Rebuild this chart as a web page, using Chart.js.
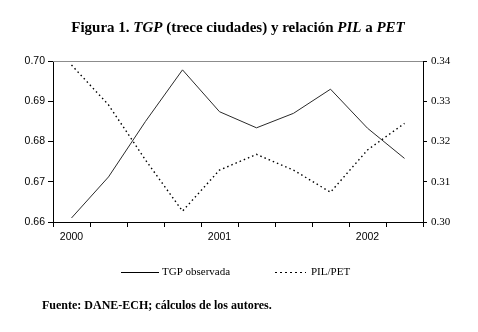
<!DOCTYPE html>
<html>
<head>
<meta charset="utf-8">
<script src="https://cdn.jsdelivr.net/npm/chart.js@4/dist/chart.umd.min.js"></script>
<style>
  html, body { margin: 0; padding: 0; background: #fff; }
  #wrap { width: 478px; height: 332px; }
</style>
</head>
<body>
<div id="wrap"><canvas id="chart" width="478" height="332"></canvas></div>
<script>
// quarterly observations, a year label every fourth one
var periods = ['2000', '', '', '', '2001', '', '', '', '2002', ''];
var tgpObservada = [0.661, 0.6712, 0.6850, 0.6978, 0.6874, 0.6834, 0.6870, 0.6930, 0.6833, 0.6758];
var pilPet = [0.3390, 0.3291, 0.3154, 0.3027, 0.3129, 0.3168, 0.3129, 0.3074, 0.3179, 0.3245];
var leftTicks = [0.66, 0.67, 0.68, 0.69, 0.70];
var rightTicks = [0.30, 0.31, 0.32, 0.33, 0.34];

var SERIF = '"Liberation Serif", "Times New Roman", serif';
var SANS = '"Liberation Sans", Arial, sans-serif';

// title, top frame line, legend and source note
var decor = {
    id: 'decor',
    afterDraw: function(chart) {
        var ctx = chart.ctx;
        var area = chart.chartArea;
        ctx.save();

        // gray line closing the top of the plot
        ctx.strokeStyle = '#8c8c8c';
        ctx.lineWidth = 1;
        ctx.beginPath();
        ctx.moveTo(area.left, area.top + 0.5);
        ctx.lineTo(area.right, area.top + 0.5);
        ctx.stroke();

        // title with italic acronyms
        var parts = [
            ['Figura 1. ', false], ['TGP', true], [' (trece ciudades) y relación ', false],
            ['PIL', true], [' a ', false], ['PET', true]
        ];
        var total = 0;
        for (var i = 0; i < parts.length; i++) {
            ctx.font = (parts[i][1] ? 'italic ' : '') + 'bold 15px ' + SERIF;
            total += ctx.measureText(parts[i][0]).width;
        }
        var x = 238 - total / 2;
        ctx.fillStyle = '#000';
        ctx.textBaseline = 'middle';
        ctx.textAlign = 'left';
        for (var j = 0; j < parts.length; j++) {
            ctx.font = (parts[j][1] ? 'italic ' : '') + 'bold 15px ' + SERIF;
            ctx.fillText(parts[j][0], x, 28);
            x += ctx.measureText(parts[j][0]).width;
        }

        // legend
        var ly = 272;
        ctx.strokeStyle = '#000';
        ctx.lineWidth = 1;
        ctx.beginPath();
        ctx.moveTo(121, ly + 0.5);
        ctx.lineTo(159, ly + 0.5);
        ctx.stroke();
        ctx.setLineDash([2, 3]);
        ctx.lineWidth = 1.2;
        ctx.beginPath();
        ctx.moveTo(275, ly + 0.5);
        ctx.lineTo(306, ly + 0.5);
        ctx.stroke();
        ctx.setLineDash([]);
        ctx.font = '11px ' + SERIF;
        ctx.fillText(chart.data.datasets[0].label, 162, ly);
        ctx.fillText(chart.data.datasets[1].label, 311, ly);

        // source
        ctx.font = 'bold 12px ' + SERIF;
        ctx.fillText('Fuente: DANE-ECH; cálculos de los autores.', 42, 306);
        ctx.restore();
    }
};

function fixed(v) { return Number(v).toFixed(2); }

new Chart(document.getElementById('chart'), {
    type: 'line',
    data: {
        labels: periods,
        datasets: [
            {
                label: 'TGP observada',
                data: tgpObservada,
                yAxisID: 'y',
                borderColor: '#2a2a2a',
                borderWidth: 1,
                pointRadius: 0,
                tension: 0,
                fill: false
            },
            {
                label: 'PIL/PET',
                data: pilPet,
                yAxisID: 'y1',
                borderColor: '#000',
                borderWidth: 1.4,
                borderDash: [1.5, 3],
                pointRadius: 0,
                tension: 0,
                fill: false
            }
        ]
    },
    options: {
        responsive: false,
        animation: false,
        layout: { padding: { top: 61, left: 0, right: 0, bottom: 0 } },
        plugins: {
            legend: { display: false },
            title: { display: false },
            tooltip: { enabled: false }
        },
        scales: {
            x: {
                type: 'category',
                offset: true,
                grid: { offset: true, drawOnChartArea: false, drawTicks: true, tickLength: 5, color: '#000' },
                border: { color: '#000', width: 1 },
                ticks: { autoSkip: false, maxRotation: 0, padding: 4, color: '#000', font: { family: SANS, size: 10.5 } },
                afterFit: function(s) { s.height = 110; }
            },
            y: {
                position: 'left',
                min: leftTicks[0],
                max: leftTicks[leftTicks.length - 1],
                afterBuildTicks: function(s) { s.ticks = leftTicks.map(function(v) { return { value: v }; }); },
                grid: { drawOnChartArea: false, drawTicks: true, tickLength: 5, color: '#000' },
                border: { color: '#000', width: 1 },
                ticks: { callback: fixed, padding: 3, color: '#000', font: { family: SANS, size: 10.5 } },
                afterFit: function(s) { s.width = 53; }
            },
            y1: {
                position: 'right',
                min: rightTicks[0],
                max: rightTicks[rightTicks.length - 1],
                afterBuildTicks: function(s) { s.ticks = rightTicks.map(function(v) { return { value: v }; }); },
                grid: { drawOnChartArea: false, drawTicks: true, tickLength: 4, color: '#000' },
                border: { color: '#000', width: 1 },
                ticks: { callback: fixed, padding: 4, color: '#000', font: { family: SERIF, size: 11 } },
                afterFit: function(s) { s.width = 55; }
            }
        }
    },
    plugins: [decor]
});
</script>
</body>
</html>
